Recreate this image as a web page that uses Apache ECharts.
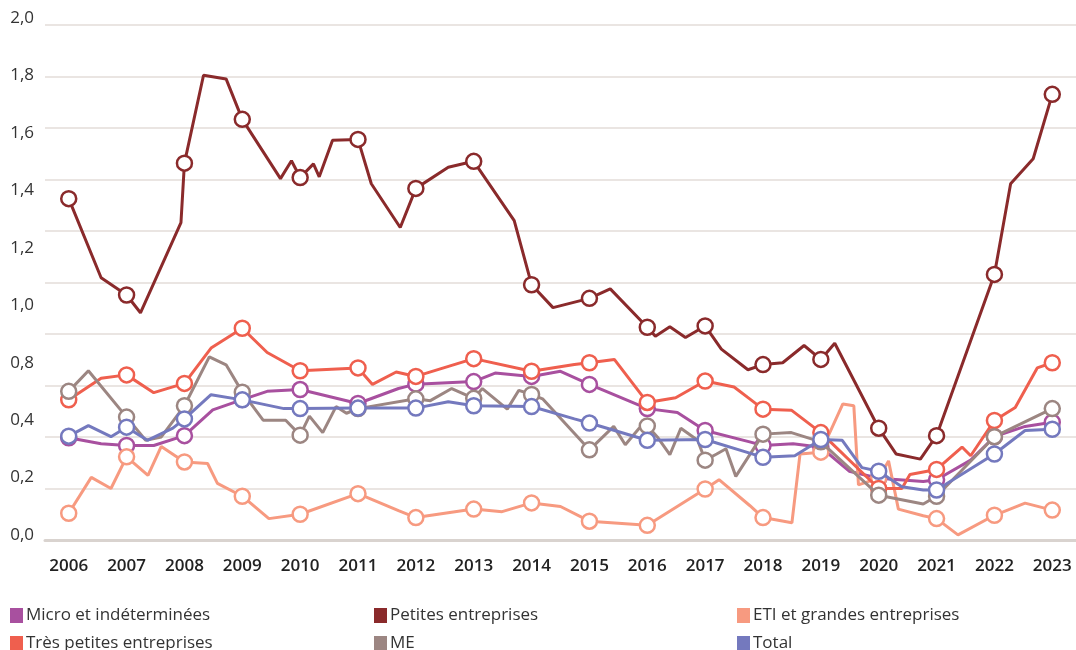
<!DOCTYPE html>
<html><head><meta charset="utf-8">
<script src="https://cdn.jsdelivr.net/npm/echarts@6/dist/echarts.min.js"></script>
<style>html,body{margin:0;padding:0;background:#fff}#c{width:1076px;height:650px}</style>
</head><body><div id="c"></div>
<script>
const years = [2006,2007,2008,2009,2010,2011,2012,2013,2014,2015,2016,2017,2018,2019,2020,2021,2022,2023];
const yTickLabels = ['0,0','0,2','0,4','0,8','1,0','1,2','1,4','1,6','1,8','2,0'];
const seriesNames = ['Micro et indéterminées','Petites entreprises','ETI et grandes entreprises','Très petites entreprises','ME','Total'];

const micro = [[2006,0.397],[2006.56,0.374],[2007,0.367],[2007.47,0.367],[2008,0.405],[2008.49,0.505],[2009,0.545],[2009.43,0.577],[2010,0.584],[2011,0.53],[2011.7,0.588],[2012,0.605],[2013,0.615],[2013.37,0.648],[2014,0.635],[2014.5,0.655],[2015,0.604],[2016,0.51],[2016.52,0.495],[2017,0.425],[2017.77,0.381],[2018,0.367],[2018.52,0.374],[2019,0.36],[2019.49,0.267],[2020,0.24],[2020.77,0.227],[2021,0.234],[2021.59,0.31],[2022,0.401],[2022.53,0.441],[2023,0.457]];
const petites = [[2006,1.325],[2006.56,1.018],[2007,0.951],[2007.24,0.882],[2007.94,1.232],[2008,1.463],[2008.33,1.804],[2008.72,1.79],[2009,1.633],[2009.66,1.403],[2009.85,1.472],[2010,1.407],[2010.23,1.46],[2010.33,1.41],[2010.56,1.552],[2011,1.555],[2011.23,1.383],[2011.73,1.213],[2012,1.365],[2012.56,1.447],[2013,1.47],[2013.7,1.24],[2014,0.991],[2014.37,0.902],[2015,0.938],[2015.36,0.975],[2016,0.826],[2016.14,0.791],[2016.39,0.828],[2016.66,0.786],[2017,0.831],[2017.28,0.741],[2017.74,0.661],[2018,0.681],[2018.34,0.688],[2018.71,0.755],[2019,0.701],[2019.24,0.764],[2020,0.434],[2020.3,0.334],[2020.72,0.314],[2021,0.405],[2022,1.031],[2022.28,1.383],[2022.67,1.48],[2023,1.73]];
const eti = [[2006,0.104],[2006.39,0.243],[2006.73,0.2],[2007,0.323],[2007.37,0.251],[2007.6,0.363],[2008,0.303],[2008.4,0.297],[2008.57,0.22],[2009,0.17],[2009.46,0.083],[2010,0.1],[2011,0.18],[2011.7,0.114],[2012,0.087],[2013,0.12],[2013.49,0.11],[2014,0.144],[2014.5,0.13],[2015,0.073],[2016,0.057],[2017,0.198],[2017.24,0.234],[2017.77,0.134],[2018,0.087],[2018.5,0.067],[2018.64,0.334],[2019,0.341],[2019.38,0.528],[2019.57,0.521],[2019.65,0.214],[2020,0.24],[2020.17,0.307],[2020.34,0.12],[2020.77,0.094],[2021,0.083],[2021.37,0.02],[2022,0.096],[2022.53,0.143],[2023,0.116]];
const tpe = [[2006,0.544],[2006.56,0.628],[2007,0.641],[2007.47,0.572],[2008,0.608],[2008.46,0.745],[2009,0.822],[2009.43,0.728],[2010,0.657],[2011,0.668],[2011.25,0.604],[2011.66,0.652],[2012,0.635],[2013,0.704],[2014,0.655],[2014.74,0.681],[2015,0.688],[2015.43,0.701],[2016,0.534],[2016.49,0.552],[2017,0.617],[2017.5,0.594],[2017.77,0.548],[2018,0.508],[2018.49,0.504],[2019,0.417],[2020,0.2],[2020.4,0.2],[2020.54,0.254],[2021,0.274],[2021.44,0.361],[2021.59,0.327],[2022,0.464],[2022.36,0.514],[2022.74,0.668],[2023,0.688]];
const me = [[2006,0.577],[2006.34,0.657],[2007,0.477],[2007.33,0.387],[2007.6,0.4],[2008,0.521],[2008.43,0.711],[2008.72,0.68],[2009,0.574],[2009.36,0.465],[2009.75,0.465],[2010,0.407],[2010.16,0.481],[2010.39,0.417],[2010.62,0.518],[2010.8,0.492],[2011,0.51],[2012,0.548],[2012.25,0.541],[2012.62,0.588],[2013,0.55],[2013.15,0.588],[2013.58,0.508],[2013.78,0.581],[2014,0.565],[2014.19,0.548],[2015,0.35],[2015.42,0.441],[2015.62,0.37],[2015.86,0.434],[2016,0.443],[2016.17,0.401],[2016.39,0.331],[2016.58,0.434],[2016.87,0.387],[2017,0.31],[2017.2,0.334],[2017.36,0.354],[2017.53,0.247],[2018,0.411],[2018.49,0.417],[2019,0.381],[2020,0.174],[2020.77,0.14],[2021,0.17],[2022,0.401],[2023,0.51]];
const total = [[2006,0.403],[2006.34,0.444],[2006.73,0.401],[2007,0.438],[2007.36,0.387],[2007.8,0.434],[2008,0.47],[2008.46,0.564],[2009,0.544],[2009.72,0.51],[2010,0.51],[2011,0.512],[2012,0.512],[2012.56,0.537],[2013,0.521],[2014,0.518],[2014.74,0.47],[2015,0.454],[2016,0.387],[2017,0.39],[2017.77,0.337],[2018,0.321],[2018.55,0.327],[2019,0.39],[2019.37,0.387],[2019.71,0.281],[2020,0.267],[2020.4,0.207],[2020.77,0.194],[2021,0.194],[2022,0.334],[2022.53,0.425],[2023,0.43]];

const colors = ['#a8509f','#8a2a2b','#f79a80','#ef5f4e','#9c8682','#7479be'];
const allData = [micro, petites, eti, tpe, me, total];
const FONT = 'Open Sans';

const chart = echarts.init(document.getElementById('c'), null, {renderer:'canvas'});
const series = seriesNames.map((name, i) => ({
  name, type:'line', xAxisIndex:0, yAxisIndex:0,
  data: allData[i],
  color: colors[i],
  lineStyle:{color:colors[i], width:3},
  symbol:'circle',
  symbolSize: v => Number.isInteger(v[0]) ? 15 : 0,
  showAllSymbol:true,
  itemStyle:{color:'#fff', borderColor:colors[i], borderWidth:2.5},
  emphasis:{disabled:true},
  z: 2 + i
}));
// legend placement: 3 columns x 2 rows
const legendPos = [[5,602],[369,602],[732,602],[5,630],[369,630],[732,630]];
const legends = seriesNames.map((n, i) => ({
  left: legendPos[i][0], top: legendPos[i][1], orient:'horizontal',
  itemWidth:13, itemHeight:15, icon:'rect', selectedMode:false,
  textStyle:{fontSize:17, color:'#333', fontFamily:FONT, padding:[0,0,0,-2]},
  data:[{name:n, itemStyle:{color:colors[i], borderWidth:0}}]
}));
chart.setOption({
  animation:false,
  grid:[{left:45,right:0,top:24.8,bottom:110},{left:45,right:0,top:18,bottom:115}],
  legend: legends,
  xAxis:[
    {gridIndex:0, type:'value', min:2005.59, max:2023.41,
     axisLine:{show:true, lineStyle:{color:'#d9d3cf', width:3}},
     axisTick:{show:false}, splitLine:{show:false},
     axisLabel:{customValues:years, formatter:v=>String(v), fontSize:17, fontWeight:600, color:'#222', margin:18, fontFamily:FONT}},
    {gridIndex:1, type:'value', min:0, max:1, show:false}
  ],
  yAxis:[
    {gridIndex:0, type:'value', min:0, max:2, interval:0.2,
     axisLabel:{show:false}, axisLine:{show:false}, axisTick:{show:false},
     splitLine:{lineStyle:{color:'#e3ddd9', width:1.5}}},
    {gridIndex:1, type:'value', min:0, max:9, interval:1,
     axisLabel:{formatter:v=>yTickLabels[v], fontSize:17, color:'#333', margin:11, fontFamily:FONT},
     axisLine:{show:false}, axisTick:{show:false}, splitLine:{show:false}}
  ],
  series
});
</script></body></html>
